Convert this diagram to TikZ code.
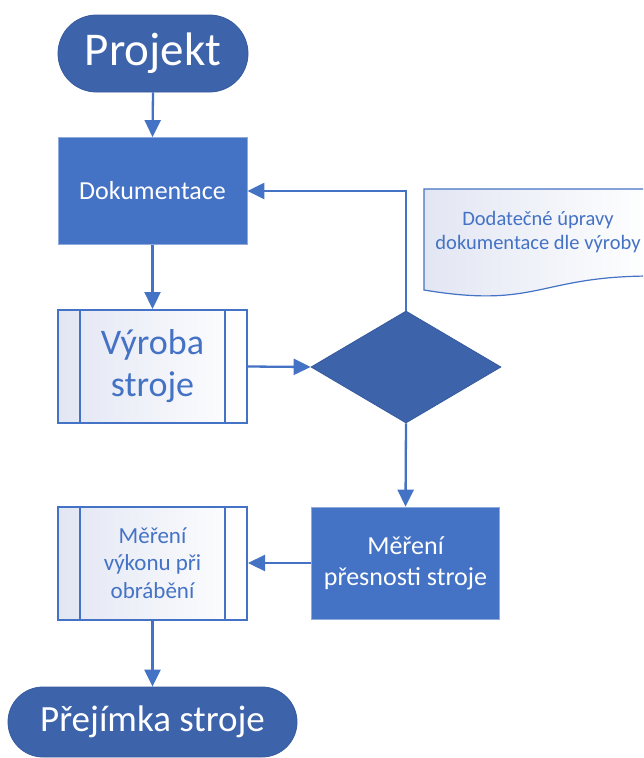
\documentclass[tikz,border=0pt]{standalone}
\usepackage{fontspec}
\setmainfont{Carlito}
\usetikzlibrary{shapes.geometric,arrows.meta}
\definecolor{mblue}{HTML}{4472C4}
\definecolor{dblue}{HTML}{3D63AA}
\definecolor{dline}{HTML}{355A9E}
\definecolor{lline}{HTML}{8FAADC}
\definecolor{lshade}{RGB}{226,230,243}
\tikzset{
  fs/.style 2 args={font=\fontsize{#1}{#2}\selectfont},
  term/.style={rectangle, fill=dblue, draw=dline, line width=0.8pt, text=white, align=center, inner sep=0pt},
  procbox/.style={rectangle, fill=mblue, draw=lline, line width=0.8pt, text=white, align=center, inner sep=0pt},
  predef/.style={rectangle, left color=lshade, right color=white, draw=mblue, line width=2pt, text=mblue, align=center, inner sep=0pt},
  decis/.style={diamond, fill=dblue, draw=dline, line width=0.8pt, inner sep=0pt, aspect=1.7},
  arr/.style={draw=mblue, line width=2.3pt, -{Triangle[length=17pt,width=16pt]}},
}
\begin{document}
\begin{tikzpicture}[x=1pt,y=-1pt]
\clip (0,0) rectangle (643,758);
\fill[white] (0,0) rectangle (643,758);

% document shape (wavy bottom)
\path[draw=mblue, line width=1.2pt, left color=lshade, right color=white]
  (424,189) -- (652,189) -- (652,276)
  .. controls (538,276) and (538,309) .. (424,290) -- cycle;
\node[text=mblue, align=center, fs={20.5}{23.5}] (note) at (538,232) {Dodatečné úpravy\\dokumentace dle výroby};

\node[term, minimum width=190pt, minimum height=77pt, rounded corners=38.5pt, fs={47}{56}] (proj) at (153,53.5) {Projekt};
\node[procbox, minimum width=189pt, minimum height=107pt, fs={26}{31}] (dok) at (152.5,191) {Dokumentace};
\node[predef, minimum width=189pt, minimum height=113pt, fs={36}{42}] (vyr) at (152.5,366.5) {Výroba\\stroje};
\draw[mblue, line width=2pt] ([xshift=23pt]vyr.north west) -- ([xshift=23pt]vyr.south west);
\draw[mblue, line width=2pt] ([xshift=-23pt]vyr.north east) -- ([xshift=-23pt]vyr.south east);
\node[decis, minimum width=190pt, minimum height=112pt] (dia) at (406,367) {};
\node[procbox, minimum width=188pt, minimum height=112pt, fs={26}{31}] (pres) at (405.5,563) {Měření\\přesnosti stroje};
\node[predef, minimum width=189pt, minimum height=113pt, fs={23}{27.5}] (vyk) at (152.5,563) {Měření\\výkonu při\\obrábění};
\draw[mblue, line width=2pt] ([xshift=23pt]vyk.north west) -- ([xshift=23pt]vyk.south west);
\draw[mblue, line width=2pt] ([xshift=-23pt]vyk.north east) -- ([xshift=-23pt]vyk.south east);
\node[term, minimum width=289pt, minimum height=70pt, rounded corners=35pt, fs={37}{44}] (prej) at (152.5,722) {Přejímka stroje};

\draw[arr] (proj.south) -- (dok.north);
\draw[arr] (dok.south) -- (vyr.north);
\draw[arr] (vyr.east) -- (dia.west);
\draw[arr] (dia.north) -- (dia.north |- dok.east) -- (dok.east);
\draw[arr] (dia.south) -- (pres.north);
\draw[arr] (pres.west) -- (vyk.east);
\draw[arr] (vyk.south) -- (prej.north);
\end{tikzpicture}
\end{document}
